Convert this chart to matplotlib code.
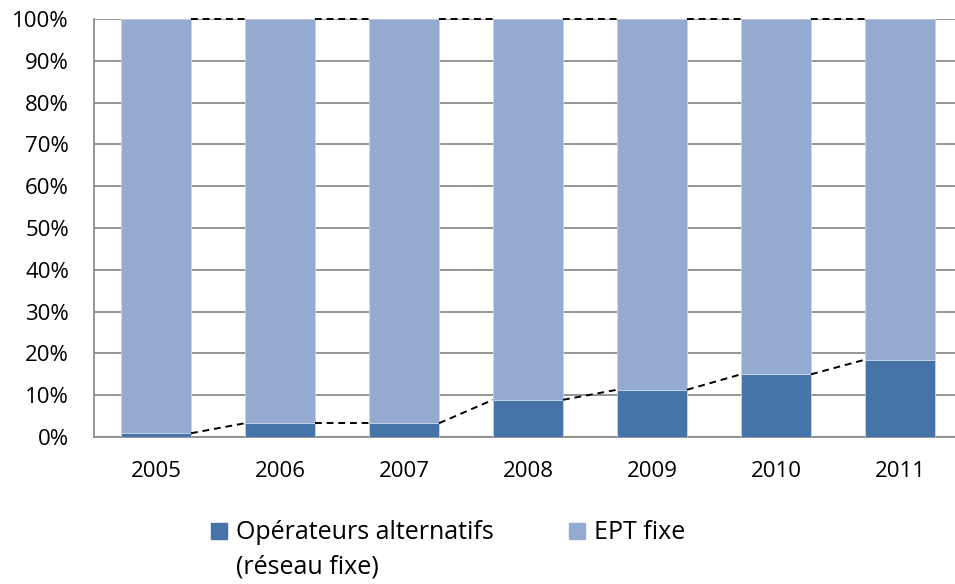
import numpy as np
import matplotlib.pyplot as plt
from matplotlib.patches import Rectangle

plt.rcParams['font.family'] = ['Open Sans', 'DejaVu Sans']
plt.rcParams['font.size'] = 16

years = ['2005', '2006', '2007', '2008', '2009', '2010', '2011']
alternatifs = [0.9, 3.3, 3.3, 8.9, 11.3, 15.0, 18.5]
ept_fixe = [100 - v for v in alternatifs]

c_dark = '#4674A8'
c_light = '#95AAD1'
bar_w = 0.565

fig = plt.figure(figsize=(9.55, 5.84), dpi=100)
W, H = 955, 584
# axes in pixel coords: left 94, right 962, top 19, bottom 437
ax = fig.add_axes([94 / W, 1 - 437 / H, (962 - 94) / W, (437 - 19) / H])

x = np.arange(len(years))
ax.bar(x, alternatifs, bar_w, color=c_dark, edgecolor='#C9D3E8', linewidth=0.6, zorder=3)
ax.bar(x, ept_fixe, bar_w, bottom=alternatifs, color=c_light, edgecolor='#C9D3E8',
       linewidth=0.6, zorder=3)

# series lines between bars
tops = [a + e for a, e in zip(alternatifs, ept_fixe)]
for i in range(len(years) - 1):
    ax.plot([x[i] + bar_w / 2, x[i + 1] - bar_w / 2], [alternatifs[i], alternatifs[i + 1]],
            color='black', ls=(0, (3.5, 2.5)), lw=1.4, zorder=4, clip_on=False)
    ax.plot([x[i] + bar_w / 2, x[i + 1] - bar_w / 2], [tops[i], tops[i + 1]],
            color='black', ls=(0, (3.5, 2.5)), lw=1.4, zorder=4, clip_on=False)

ax.set_xlim(-0.5, len(years) - 0.5)
ax.set_ylim(0, 100)
ax.set_yticks(np.arange(0, 101, 10))
ax.set_yticklabels([f'{v}%' for v in range(0, 101, 10)])
ax.set_xticks(x)
ax.set_xticklabels(years)
ax.yaxis.grid(True, color='#8C8C8C', lw=1.3, zorder=0)
ax.set_axisbelow(True)
for s in ['top', 'right']:
    ax.spines[s].set_visible(False)
for s in ['left', 'bottom']:
    ax.spines[s].set_color('#8C8C8C')
    ax.spines[s].set_linewidth(1.3)
ax.tick_params(axis='y', length=0, pad=18)
ax.tick_params(axis='x', length=0, pad=17)

# legend
fs = 18
fig.add_artist(Rectangle((211 / W, 1 - 539 / H), 16 / W, 16 / H, color=c_dark,
                         transform=fig.transFigure))
fig.text(236 / W, 1 - 539 / H, 'Opérateurs alternatifs', va='baseline', ha='left', fontsize=fs)
fig.text(236 / W, 1 - 573 / H, '(réseau fixe)', va='baseline', ha='left', fontsize=fs)
fig.add_artist(Rectangle((569 / W, 1 - 539 / H), 16 / W, 16 / H, color=c_light,
                         transform=fig.transFigure))
fig.text(594 / W, 1 - 539 / H, 'EPT fixe', va='baseline', ha='left', fontsize=fs)

fig.savefig('out.png', dpi=100)
